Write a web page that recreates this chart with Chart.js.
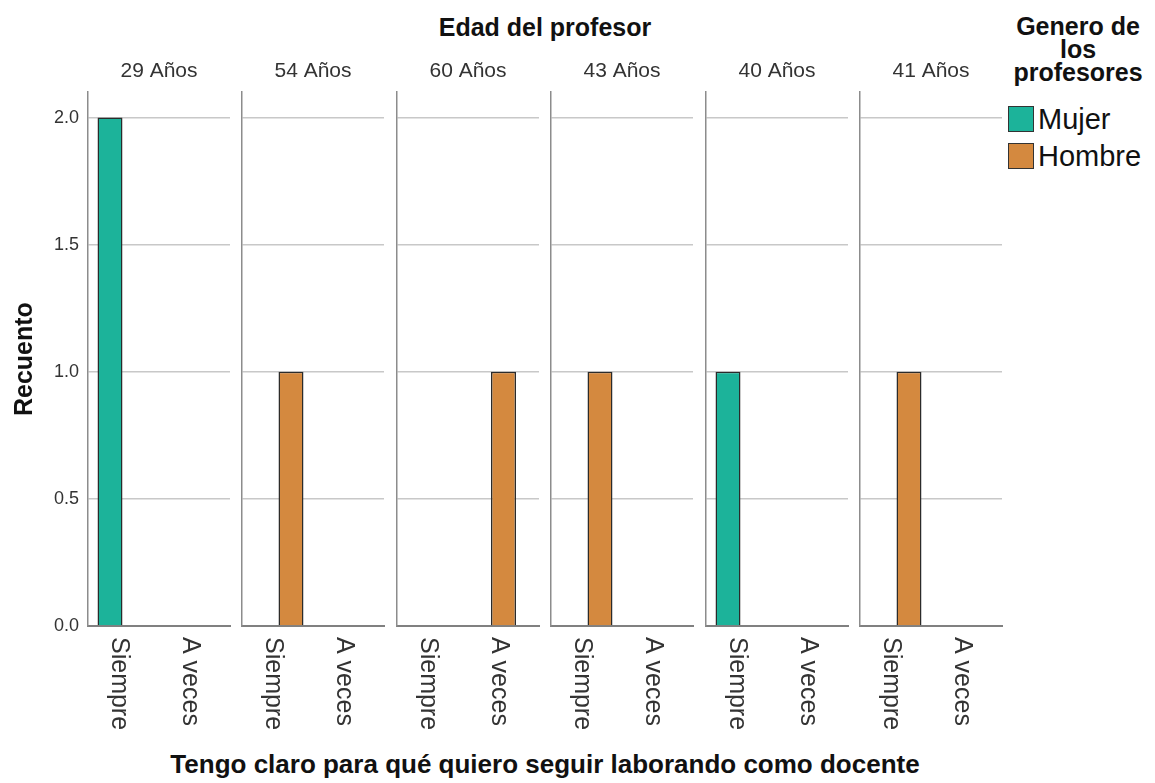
<!DOCTYPE html>
<html>
<head>
<meta charset="utf-8">
<script src="https://cdn.jsdelivr.net/npm/chart.js@4.4.1/dist/chart.umd.min.js"></script>
<style>
  html, body { margin: 0; padding: 0; background: #fff; }
  #wrap { position: relative; width: 1155px; height: 783px; overflow: hidden; font-family: "Liberation Sans", Arial, sans-serif; }
  #wrap canvas { position: absolute; top: 0; }
  .txt { position: absolute; white-space: nowrap; color: #111; }
  #topTitle { left: 0; width: 1090px; top: 15px; text-align: center; font: bold 25px/25px "Liberation Sans", Arial, sans-serif; }
  #xTitle { left: 0; width: 1090px; top: 751px; text-align: center; font: bold 26px/26px "Liberation Sans", Arial, sans-serif; }
  #legTitle { left: 1006px; width: 144px; top: 15px; text-align: center; font: bold 25px/23px "Liberation Sans", Arial, sans-serif; white-space: normal; }
  .legBox { position: absolute; left: 1008px; width: 24px; height: 24px; border: 1.5px solid #333; }
  .legText { position: absolute; left: 1038px; font: 29px/26px "Liberation Sans", Arial, sans-serif; color: #111; }
</style>
</head>
<body>
<div id="wrap">
  <div id="topTitle" class="txt">Edad del profesor</div>
  <div id="xTitle" class="txt">Tengo claro para qué quiero seguir laborando como docente</div>
  <div id="legTitle" class="txt">Genero de<br>los<br>profesores</div>
  <div id="legend"></div>
</div>
<script>
// data
const PANEL_LABELS = ['29 Años', '54 Años', '60 Años', '43 Años', '40 Años', '41 Años'];
const CATEGORIES = ['Siempre', 'A veces'];
const SERIES = ['Mujer', 'Hombre'];
// nobody answered "A veces" as Mujer, so that slot is null (no space kept)
const MUJER = [[2, null], [0, null], [0, null], [0, null], [1, null], [0, null]];
const HOMBRE = [[0, 0], [1, 0], [0, 1], [1, 0], [0, 0], [1, 0]];
const Y_TICKS = [0, 0.5, 1, 1.5, 2];
const Y_MAX = 2.1;

const COLORS = ['#1cb39a', '#d4893f'];
const FONT = '"Liberation Sans", Arial, sans-serif';
const GRID_COLOR = '#c8c8c8';
const TEXT_COLOR = '#333';

const wrap = document.getElementById('wrap');

// legend
SERIES.forEach((name, k) => {
  const top = 106 + k * 37;
  const box = document.createElement('div');
  box.className = 'legBox';
  box.style.top = top + 'px';
  box.style.background = COLORS[k];
  wrap.appendChild(box);
  const t = document.createElement('div');
  t.className = 'legText';
  t.style.top = top + 'px';
  t.textContent = name;
  wrap.appendChild(t);
});

// x labels run top to bottom, so draw them ourselves at the scale's tick pixels
const xLabels = {
  id: 'xLabels',
  afterDraw(chart) {
    const scale = chart.scales.x;
    const ctx = chart.ctx;
    ctx.save();
    ctx.font = '25px ' + FONT;
    ctx.fillStyle = TEXT_COLOR;
    ctx.textAlign = 'left';
    ctx.textBaseline = 'middle';
    chart.data.labels.forEach((lab, i) => {
      ctx.save();
      ctx.translate(scale.getPixelForTick(i) - 5, scale.top + 11);
      ctx.rotate(Math.PI / 2);
      ctx.fillText(lab, 0, 0);
      ctx.restore();
    });
    ctx.restore();
  }
};

const PANEL_W = 142;
PANEL_LABELS.forEach((label, i) => {
  const first = i === 0;
  const left = 88 + Math.round(154.4 * i);
  const yW = first ? 88 : 4;
  const canvas = document.createElement('canvas');
  canvas.width = yW + PANEL_W + 3;
  canvas.height = 783;
  canvas.style.left = (left - yW) + 'px';
  wrap.appendChild(canvas);

  new Chart(canvas.getContext('2d'), {
    type: 'bar',
    data: {
      labels: CATEGORIES,
      datasets: [
        { label: SERIES[0], data: MUJER[i], backgroundColor: COLORS[0] },
        { label: SERIES[1], data: HOMBRE[i], backgroundColor: COLORS[1] }
      ]
    },
    plugins: [xLabels],
    options: {
      responsive: false,
      devicePixelRatio: 1,
      animation: false,
      layout: { padding: { top: 51, right: 3, bottom: 0, left: 0 } },
      datasets: {
        bar: {
          categoryPercentage: 0.76,
          barPercentage: 1,
          maxBarThickness: 25,
          skipNull: true,
          inflateAmount: 0,
          borderWidth: 1.5,
          borderColor: '#2b2b2b'
        }
      },
      plugins: {
        legend: { display: false },
        tooltip: { enabled: false },
        title: {
          display: true,
          text: label,
          fullSize: false,
          color: TEXT_COLOR,
          font: { family: FONT, size: 21, weight: 'normal' },
          padding: { top: 8, bottom: 8 }
        }
      },
      scales: {
        x: {
          type: 'category',
          offset: true,
          grid: { display: false },
          border: { display: true, color: '#808080', width: 2 },
          ticks: { display: false },
          afterFit(s) { s.height = 157; }
        },
        y: {
          min: 0,
          max: Y_MAX,
          afterBuildTicks(s) { s.ticks = Y_TICKS.map(v => ({ value: v })); },
          grid: {
            color: c => (c.tick && c.tick.value === 0) ? 'rgba(0,0,0,0)' : GRID_COLOR,
            lineWidth: 1.5,
            drawTicks: false
          },
          border: { display: true, color: '#8c8c8c', width: 1.5 },
          ticks: {
            display: first,
            padding: 9,
            color: TEXT_COLOR,
            font: { family: FONT, size: 18 },
            callback: v => Number(v).toFixed(1)
          },
          title: {
            display: first,
            text: 'Recuento',
            color: '#111',
            font: { family: FONT, size: 25, weight: 'bold' },
            padding: { top: 10, bottom: 0 }
          },
          afterFit(s) { s.width = yW; }
        }
      }
    }
  });
});
</script>
</body>
</html>
